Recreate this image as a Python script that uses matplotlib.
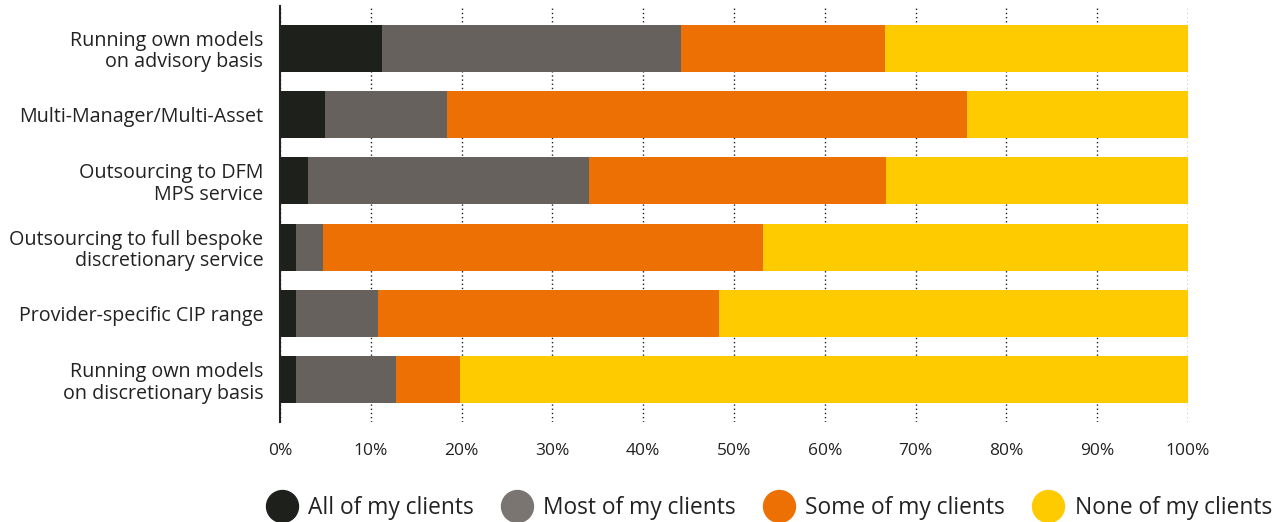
import matplotlib.pyplot as plt
from matplotlib.lines import Line2D

plt.rcParams['font.family'] = ['Open Sans', 'DejaVu Sans']

#===============================================================
#=               Step 0: Data                                  =
#===============================================================
categories = ["Running own models\non advisory basis",
              "Multi-Manager/Multi-Asset",
              "Outsourcing to DFM\nMPS service",
              "Outsourcing to full bespoke\ndiscretionary service",
              "Provider-specific CIP range",
              "Running own models\non discretionary basis"]
all_clients = [11.2, 5.0, 3.1, 1.8, 1.8, 1.8]
most_clients = [33.0, 13.4, 30.9, 2.9, 9.0, 11.0]
some_clients = [22.4, 57.3, 32.7, 48.5, 37.5, 7.0]
none_clients = [33.4, 24.3, 33.3, 46.8, 51.7, 80.2]

series = ["All of my clients", "Most of my clients", "Some of my clients", "None of my clients"]
colors = ["#1e201c", "#66615d", "#ed7004", "#fecb00"]
legend_colors = ["#1e201c", "#7a7571", "#ed7004", "#fecb00"]

#===============================================================
#=               Step 1: Plot                                  =
#===============================================================
fig = plt.figure(figsize=(12.78, 5.22), dpi=100)
ax = fig.add_axes([280/1278, 1-422/522, 908/1278, 416/522])

txt = "#222222"
left = [0]*len(categories)
for vals, c, name in zip([all_clients, most_clients, some_clients, none_clients], colors, series):
    ax.barh(range(len(categories)), vals, left=left, height=0.71, color=c, label=name, zorder=3)
    left = [l + v for l, v in zip(left, vals)]

ax.set_ylim(5.64, -0.64)
ax.set_xlim(0, 100)
ax.set_xticks(range(0, 101, 10))
ax.set_xticklabels([f"{t}%" for t in range(0, 101, 10)], fontsize=12.5, color=txt)
ax.set_yticks(range(len(categories)))
ax.set_yticklabels(categories, fontsize=14.2, color=txt, linespacing=1.1)
ax.tick_params(axis='both', length=0)
ax.tick_params(axis='x', pad=15)
ax.tick_params(axis='y', pad=12)

for s in ['top', 'right', 'bottom']:
    ax.spines[s].set_visible(False)
ax.spines['left'].set_color('#222222')
ax.spines['left'].set_linewidth(1.5)
ax.spines['left'].set_zorder(4)

ax.xaxis.grid(True, linestyle=(0, (1, 2)), color='#222222', linewidth=1, zorder=1)
ax.set_axisbelow(True)

handles = [Line2D([0], [0], marker='o', linestyle='', markersize=23,
                  markerfacecolor=c, markeredgecolor=c) for c in legend_colors]
fig.legend(handles, series, loc='center', bbox_to_anchor=(770/1278, 1-508/522),
           ncol=4, frameon=False, fontsize=16.4, handletextpad=0.55, columnspacing=1.3,
           labelcolor=txt, handlelength=1.2)

plt.savefig('out.png', dpi=100)
